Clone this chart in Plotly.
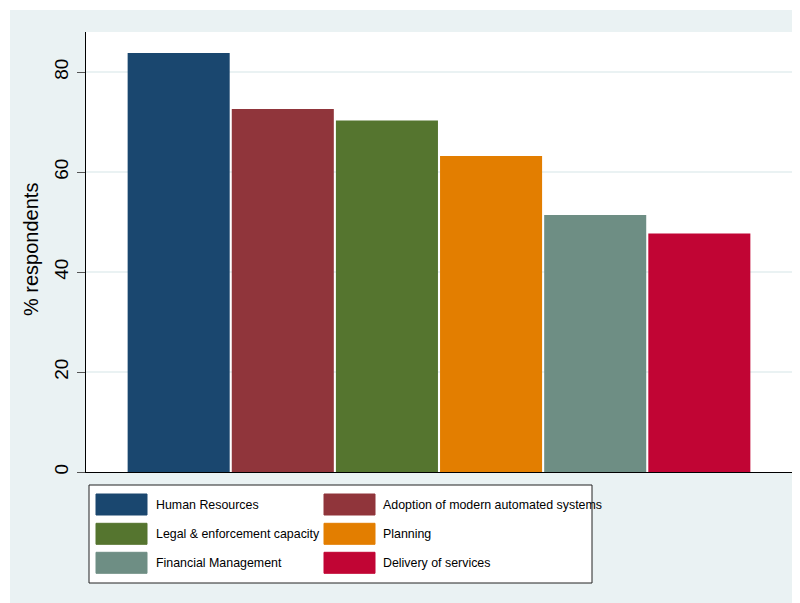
import plotly.graph_objects as go

# ---- data ----
categories = [
    "Human Resources",
    "Adoption of modern automated systems",
    "Legal & enforcement capacity",
    "Planning",
    "Financial Management",
    "Delivery of services",
]
values = [83.8, 72.6, 70.3, 63.2, 51.4, 47.7]
colors = ["#1A476F", "#90353B", "#55752F", "#E37E00", "#6E8E84", "#C10534"]
y_ticks = [0, 20, 40, 60, 80]
y_title = "% respondents"

# ---- layout geometry (screen pixels; page body adds an 8px offset) ----
OFF = 8
SW, SH = 800, 603
W, H = SW - OFF, SH - OFF
L, R, T, B = 86 - OFF, 792 - OFF, 32 - OFF, 472 - OFF
BG = "#EAF2F3"
FONT = "Liberation Sans, Arial, sans-serif"


def px_x(x):  # screen x -> paper
    return (x - OFF - L) / (R - L)


def px_y(y):  # screen y -> paper
    return (B - (y - OFF)) / (B - T)


fig = go.Figure()
for name, val, col in zip(categories, values, colors):
    fig.add_trace(go.Bar(
        x=["all"], y=[val], name=name,
        marker=dict(color=col, line=dict(width=0)),
        showlegend=False,
        hovertemplate=name + ": %{y}<extra></extra>",
    ))

shapes = []
annotations = []

# white border strips (top and left)
shapes.append(dict(type="rect", xref="paper", yref="paper",
                   x0=px_x(0), x1=px_x(SW + 10), y0=px_y(10), y1=px_y(0),
                   fillcolor="white", line=dict(width=0), layer="above"))
shapes.append(dict(type="rect", xref="paper", yref="paper",
                   x0=px_x(0), x1=px_x(10), y0=px_y(SH + 10), y1=px_y(0),
                   fillcolor="white", line=dict(width=0), layer="above"))

# legend box
shapes.append(dict(type="rect", xref="paper", yref="paper",
                   x0=px_x(89), x1=px_x(592), y0=px_y(583), y1=px_y(485),
                   fillcolor="white", line=dict(color="#222222", width=1), layer="above"))

col_sw = [96, 324]
col_txt = [154, 381]
row_top = [494, 523.3, 552.3]
sw_w, sw_h = 51, 21
for i, (name, col) in enumerate(zip(categories, colors)):
    r, c = divmod(i, 2)
    y0 = row_top[r]
    shapes.append(dict(type="rect", xref="paper", yref="paper",
                       x0=px_x(col_sw[c]), x1=px_x(col_sw[c] + sw_w),
                       y0=px_y(y0 + sw_h), y1=px_y(y0),
                       fillcolor=col, line=dict(color=col, width=1), layer="above"))
    annotations.append(dict(text=name, xref="paper", yref="paper",
                            x=px_x(col_txt[c]), y=px_y(y0 + sw_h / 2),
                            xanchor="left", yanchor="middle", showarrow=False,
                            font=dict(family=FONT, size=12.4, color="black")))

# y-axis title
annotations.append(dict(text=y_title, xref="paper", yref="paper",
                        x=px_x(31), y=px_y(250), textangle=-90,
                        xanchor="center", yanchor="middle", showarrow=False,
                        font=dict(family=FONT, size=20, color="black")))

fig.update_layout(
    width=W, height=H,
    margin=dict(l=L, r=W - R, t=T, b=H - B, pad=0),
    paper_bgcolor=BG, plot_bgcolor="white",
    barmode="group", bargap=0.115, bargroupgap=0.02,
    shapes=shapes, annotations=annotations,
    showlegend=False,
    xaxis=dict(range=[-0.5, 0.5], showticklabels=False, ticks="", showgrid=False,
               zeroline=False, showline=True, linecolor="black", linewidth=1,
               fixedrange=True),
    yaxis=dict(range=[0, 88], tickvals=y_ticks, tickangle=-90, ticks="outside",
               ticklen=8, tickcolor="#555555", tickwidth=1.2,
               showline=True, linecolor="black", linewidth=1,
               showgrid=True, gridcolor=BG, gridwidth=2, zeroline=False,
               ticklabelstandoff=1,
               tickfont=dict(family=FONT, size=19, color="black")),
)

fig.write_html("out.html")
